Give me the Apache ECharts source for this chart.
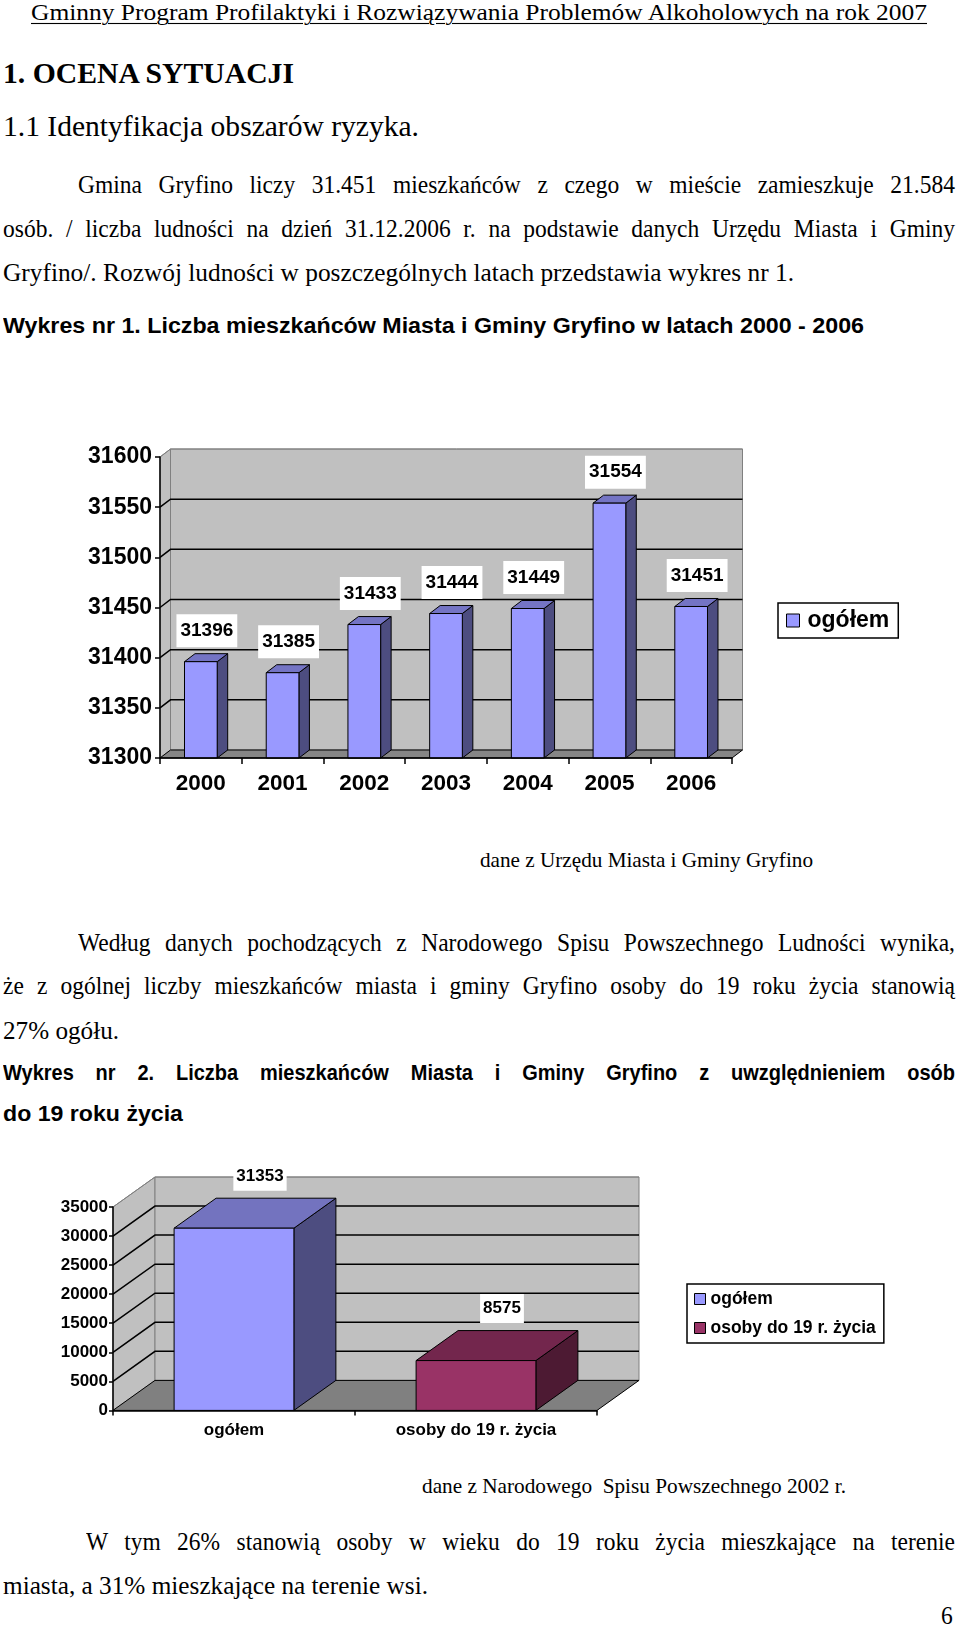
<!DOCTYPE html>
<html><head><meta charset="utf-8">
<script src="https://cdn.jsdelivr.net/npm/echarts@6/dist/echarts.min.js"></script>
<style>
html,body{margin:0;padding:0;background:#fff;width:960px;height:1627px;overflow:hidden;position:relative;}
.t{position:absolute;white-space:pre;color:#000;line-height:1;transform-origin:0 50%;}
.serif{font-family:"Liberation Serif","Times New Roman",serif;}
.b{font-weight:bold;}
.sans{font-family:"Liberation Sans",Arial,sans-serif;font-weight:bold;}
.u{text-decoration:underline;text-underline-offset:3px;text-decoration-thickness:1px;}
#c1{position:absolute;left:0;top:400px;width:960px;height:420px;}
#c2{position:absolute;left:0;top:1130px;width:960px;height:330px;}
</style></head><body>
<div id="page"></div>
<div id="c1"></div><div id="c2"></div>
<script>
// ---- chart data ----
const years = ['2000','2001','2002','2003','2004','2005','2006'];
const population = [31396,31385,31433,31444,31449,31554,31451];
const yTicks1 = [31300,31350,31400,31450,31500,31550,31600];
const series1Name = 'ogółem';

const groups2 = ['ogółem','osoby do 19 r. życia'];
const values2 = [31353, 8575];
const yTicks2 = [0,5000,10000,15000,20000,25000,30000,35000];

// ---- page text ----
const lines = [
 {t:'Gminny Program Profilaktyki i Rozwiązywania Problemów Alkoholowych na rok 2007', c:'serif u', x:31, y:12.5, fs:21, w:896, m:'fit'},
 {t:'1. OCENA SYTUACJI', c:'serif b', x:3, y:73.5, fs:26, w:291, m:'fit'},
 {t:'1.1 Identyfikacja obszarów ryzyka.', c:'serif', x:3, y:126.5, fs:26, w:416, m:'fit'},
 {t:'Gmina Gryfino liczy 31.451 mieszkańców z czego w mieście zamieszkuje 21.584', c:'serif', x:78, y:184.7, fs:23.5, w:877, m:'j'},
 {t:'osób. / liczba ludności na dzień 31.12.2006 r. na podstawie danych Urzędu Miasta i Gminy', c:'serif', x:3, y:228.3, fs:23.5, w:952, m:'j'},
 {t:'Gryfino/. Rozwój ludności w poszczególnych latach przedstawia wykres nr 1.', c:'serif', x:3, y:273, fs:23.5, w:791, m:'fit'},
 {t:'Wykres nr 1. Liczba mieszkańców Miasta i Gminy Gryfino w latach 2000 - 2006', c:'sans', x:3, y:324.8, fs:20, w:861, m:'fit'},
 {t:'dane z Urzędu Miasta i Gminy Gryfino', c:'serif', x:480, y:859.3, fs:19.5, w:333, m:'fit'},
 {t:'Według danych pochodzących z Narodowego Spisu Powszechnego Ludności wynika,', c:'serif', x:78, y:942.3, fs:23.5, w:877, m:'j'},
 {t:'że z ogólnej liczby mieszkańców miasta i gminy Gryfino osoby do 19 roku życia stanowią', c:'serif', x:3, y:985.9, fs:23.5, w:952, m:'j'},
 {t:'27% ogółu.', c:'serif', x:3, y:1030.5, fs:23.5, w:116, m:'fit'},
 {t:'Wykres nr 2. Liczba mieszkańców Miasta i Gminy Gryfino z uwzględnieniem osób', c:'sans', x:3, y:1072, fs:20, w:952, m:'j'},
 {t:'do 19 roku życia', c:'sans', x:3, y:1112.5, fs:20, w:180, m:'fit'},
 {t:'dane z Narodowego  Spisu Powszechnego 2002 r.', c:'serif', x:422, y:1486, fs:19.5, w:424, m:'fit'},
 {t:'W tym 26% stanowią osoby w wieku do 19 roku życia mieszkające na terenie', c:'serif', x:86, y:1542, fs:23.5, w:869, m:'j'},
 {t:'miasta, a 31% mieszkające na terenie wsi.', c:'serif', x:3, y:1585.7, fs:23.5, w:425, m:'fit'},
 {t:'6', c:'serif', x:941, y:1616, fs:23.5}
];
const SY = 1.1; // reference glyphs are slightly taller than standard
const page = document.getElementById('page');
lines.forEach(L => {
  const d = document.createElement('div');
  d.className = 't ' + L.c;
  d.textContent = L.t;
  d.style.left = L.x + 'px';
  d.style.top = (L.y - L.fs / 2) + 'px';
  d.style.fontSize = L.fs + 'px';
  page.appendChild(d);
  const w0 = d.getBoundingClientRect().width;
  let sx = 1;
  if (L.m === 'j') {
    const n = (L.t.match(/ /g) || []).length;
    const ws = (L.w - w0) / n;
    if (ws >= 0) d.style.wordSpacing = ws + 'px';
    else sx = L.w / w0;
  } else if (L.m === 'fit') {
    sx = L.w / w0;
  }
  d.style.transform = 'scale(' + sx + ',' + SY + ')';
});

// ---- 3D-look helpers ----
const FONT = '"Liberation Sans", Arial, sans-serif';
function wallsRender(ticks, D, floorColor) {
  return function (params, api) {
    const cs = params.coordSys;
    const x0 = cs.x, x1 = cs.x + cs.width;
    const yB = api.coord([0, ticks[0]])[1];
    const yT = api.coord([0, ticks[ticks.length - 1]])[1];
    const dx = D.dx, dy = D.dy;
    const ch = [];
    ch.push({type:'polygon', shape:{points:[[x0,yB],[x0+dx,yB-dy],[x0+dx,yT-dy],[x0,yT]]}, style:{fill:'#C0C0C0', stroke:'#808080', lineWidth:1}});
    ch.push({type:'rect', shape:{x:x0+dx, y:yT-dy, width:x1-x0, height:yB-yT}, style:{fill:'#C0C0C0', stroke:'#808080', lineWidth:1}});
    ch.push({type:'polygon', shape:{points:[[x0,yB],[x1,yB],[x1+dx,yB-dy],[x0+dx,yB-dy]]}, style:{fill:floorColor, stroke:'#000', lineWidth:1}});
    ticks.slice(1).forEach((v, i, arr) => {
      const y = api.coord([0, v])[1];
      const top = i === arr.length - 1;
      ch.push({type:'polyline', shape:{points:[[x0,y],[x0+dx,y-dy],[x1+dx,y-dy]]},
        style:{fill:null, stroke: top ? '#808080' : '#000', lineWidth: top ? 1 : 1.5}});
    });
    return {type:'group', children:ch};
  };
}
function barsRender(D, ratio, colors, fontSize, yMin, pad, gap, lx) {
  return function (params, api) {
    const idx = api.value(0), val = api.value(1);
    const p = api.coord([idx, val]);
    const base = api.coord([idx, yMin])[1];
    const bw = api.size([1, 0])[0] * ratio;
    const xl = p[0] - bw / 2, xr = p[0] + bw / 2, yt = p[1];
    const dx = D.dx, dy = D.dy;
    const st = {stroke:'#000', lineWidth:1, lineJoin:'round'};
    return {type:'group', children:[
      {type:'polygon', shape:{points:[[xr,yt],[xr+dx,yt-dy],[xr+dx,base-dy],[xr,base]]}, style:Object.assign({}, st, {fill:colors.side})},
      {type:'polygon', shape:{points:[[xl,yt],[xr,yt],[xr+dx,yt-dy],[xl+dx,yt-dy]]}, style:Object.assign({}, st, {fill:colors.top})},
      {type:'rect', shape:{x:xl, y:yt, width:bw, height:base-yt}, style:Object.assign({}, st, {fill:colors.front})},
      {type:'text', x:p[0] + lx, y:yt - dy - gap, z2:10,
        style:{text:String(val), fill:'#000', font:'bold ' + fontSize + 'px ' + FONT, align:'center', verticalAlign:'middle', backgroundColor:'#fff', padding:pad}}
    ]};
  };
}
function axisCommon(fs, tickLen, margin) {
  return {
    axisLine:{show:true, lineStyle:{color:'#000', width:1.5}},
    axisTick:{show:true, length:tickLen, lineStyle:{color:'#000', width:1.5}},
    axisLabel:{color:'#000', fontWeight:'bold', fontSize:fs, fontFamily:FONT, margin:margin, formatter:v => String(v)},
    splitLine:{show:false}, z:10
  };
}

// ---- chart 1 ----
const D1 = {dx:10.5, dy:8};
const c1 = echarts.init(document.getElementById('c1'));
c1.setOption({
  animation:false,
  grid:{left:160, top:57, width:572, height:301, containLabel:false},
  legend:{
    left:778, top:203, orient:'vertical', padding:[6,9,6,8],
    borderColor:'#000', borderWidth:1.5, backgroundColor:'#fff',
    itemWidth:13, itemHeight:13, itemGap:6,
    textStyle:{color:'#000', fontWeight:'bold', fontSize:23, fontFamily:FONT, padding:[0,0,0,3]},
    data:[{name:series1Name, icon:'rect', itemStyle:{color:'#9999FF', borderColor:'#000', borderWidth:1}}]
  },
  xAxis:Object.assign(axisCommon(22.5, 6, 14), {type:'category', data:years}),
  yAxis:Object.assign(axisCommon(23, 5, 8), {type:'value', min:yTicks1[0], max:yTicks1[yTicks1.length-1], interval:50}),
  series:[
    {type:'custom', name:'walls', z:1, silent:true, renderItem:wallsRender(yTicks1, D1, '#868686'), data:[[0, yTicks1[0]]]},
    {type:'custom', name:series1Name, z:3, itemStyle:{color:'#9999FF'},
      renderItem:barsRender(D1, 0.40, {front:'#9999FF', top:'#7474C4', side:'#4D4D80'}, 19, yTicks1[0], [7,4], 23, 6),
      data:population.map((v, i) => [i, v])}
  ]
});

// ---- chart 2 ----
const D2 = {dx:42, dy:30};
const colors2 = [
  {front:'#9999FF', top:'#7373BF', side:'#4D4D80'},
  {front:'#993366', top:'#73264D', side:'#4D1A33'}
];
const c2 = echarts.init(document.getElementById('c2'));
c2.setOption({
  animation:false,
  grid:{left:113, top:77, width:484, height:203.4, containLabel:false},
  legend:{
    left:687, top:154, orient:'vertical', padding:[6,8,6,7],
    borderColor:'#000', borderWidth:1.5, backgroundColor:'#fff',
    itemWidth:11, itemHeight:11, itemGap:11,
    textStyle:{color:'#000', fontWeight:'bold', fontSize:17.5, fontFamily:FONT},
    data:groups2.map((g, i) => ({name:g, icon:'rect', itemStyle:{color:colors2[i].front, borderColor:'#000', borderWidth:1}}))
  },
  xAxis:Object.assign(axisCommon(17, 5, 11), {type:'category', data:groups2}),
  yAxis:Object.assign(axisCommon(17, 4, 5), {type:'value', min:yTicks2[0], max:yTicks2[yTicks2.length-1], interval:5000}),
  series:[
    {type:'custom', name:'walls', z:1, silent:true, renderItem:wallsRender(yTicks2, D2, '#808080'), data:[[0, 0]]}
  ].concat(groups2.map((g, i) => ({
    type:'custom', name:g, z:3, itemStyle:{color:colors2[i].front},
    renderItem:barsRender(D2, 0.495, colors2[i], 17, yTicks2[0], [6,3], 22, 26),
    data:[[i, values2[i]]]
  })))
});
</script>
</body></html>
